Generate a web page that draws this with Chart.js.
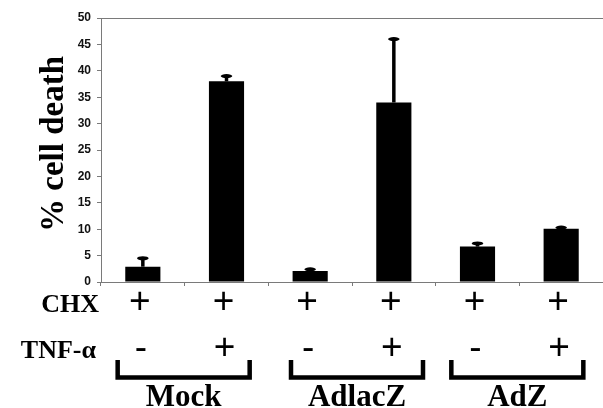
<!DOCTYPE html>
<html>
<head>
<meta charset="utf-8">
<script src="https://cdn.jsdelivr.net/npm/chart.js@4/dist/chart.umd.min.js"></script>
<style>
html,body{margin:0;padding:0;background:#fff;}
#wrap{width:603px;height:408px;}
</style>
</head>
<body>
<div id="wrap"><canvas id="c" width="603" height="408"></canvas></div>
<script>
// ---- data ----
const categories = ['Mock TNF-', 'Mock TNF+', 'AdlacZ TNF-', 'AdlacZ TNF+', 'AdZ TNF-', 'AdZ TNF+'];
const cellDeath = [2.9, 38.0, 2.1, 34.0, 6.7, 10.1];
const errorUpper = [1.6, 1.0, 0.3, 12.0, 0.6, 0.2];
const chxSigns = ['+', '+', '+', '+', '+', '+'];
const tnfSigns = ['-', '+', '-', '+', '-', '+'];
const groupNames = ['Mock', 'AdlacZ', 'AdZ'];
const groupFirst = [0, 2, 4];
const groupLast = [1, 3, 5];
const yMin = 0, yMax = 50, yStep = 5;
const yTitle = '% cell death';
const rowLabels = ['CHX', 'TNF-α'];

const AXIS = '#7a7a7a';

const extras = {
  id: 'extras',
  afterDatasetsDraw(chart) {
    const ctx = chart.ctx;
    const xs = chart.scales.x, ys = chart.scales.y;
    const a = chart.chartArea;
    ctx.save();
    // top border
    ctx.strokeStyle = AXIS; ctx.lineWidth = 1;
    ctx.beginPath(); ctx.moveTo(a.left, a.top + 0.5); ctx.lineTo(a.right, a.top + 0.5); ctx.stroke();
    // error bars (upper only)
    ctx.fillStyle = '#000'; ctx.strokeStyle = '#000';
    cellDeath.forEach((v, i) => {
      const x = xs.getPixelForValue(i);
      const y0 = ys.getPixelForValue(v);
      const y1 = ys.getPixelForValue(v + errorUpper[i]);
      ctx.lineWidth = 3.5;
      ctx.beginPath(); ctx.moveTo(x, y0); ctx.lineTo(x, y1); ctx.stroke();
      ctx.beginPath(); ctx.ellipse(x, y1, 5.8, 2, 0, 0, Math.PI * 2); ctx.fill();
    });
    // y title
    ctx.fillStyle = '#000';
    ctx.font = 'bold 33px "Liberation Serif", serif';
    ctx.textAlign = 'center'; ctx.textBaseline = 'middle';
    ctx.save();
    ctx.translate(54, (a.top + a.bottom) / 2 - 6);
    ctx.rotate(-Math.PI / 2);
    ctx.fillText(yTitle, 0, 0);
    ctx.restore();
    // row labels
    ctx.font = 'bold 26px "Liberation Serif", serif';
    ctx.textAlign = 'right'; ctx.textBaseline = 'alphabetic';
    ctx.fillText(rowLabels[0], 99, 312);
    ctx.fillText(rowLabels[1], 96, 358);
    // signs
    ctx.font = '37px "Liberation Sans", Arial, sans-serif';
    ctx.textAlign = 'center'; ctx.textBaseline = 'middle';
    chxSigns.forEach((s, i) => {
      ctx.fillText(s, xs.getPixelForValue(i) - 3, 303);
    });
    tnfSigns.forEach((s, i) => {
      ctx.fillText(s, xs.getPixelForValue(i) - 2, 349);
    });
    // brackets and group names
    const shifts = [-1, 5, -2];
    ctx.lineWidth = 4.5; ctx.lineJoin = 'miter'; ctx.lineCap = 'butt';
    groupNames.forEach((g, k) => {
      const mid = (xs.getPixelForValue(groupFirst[k]) + xs.getPixelForValue(groupLast[k])) / 2 + shifts[k];
      const l = mid - 66, r = mid + 66;
      ctx.beginPath();
      ctx.moveTo(l, 360); ctx.lineTo(l, 377.5); ctx.lineTo(r, 377.5); ctx.lineTo(r, 360);
      ctx.stroke();
      ctx.font = 'bold 31px "Liberation Serif", serif';
      ctx.textAlign = 'center'; ctx.textBaseline = 'alphabetic';
      ctx.fillText(g, mid, 406);
    });
    ctx.restore();
  }
};

new Chart(document.getElementById('c'), {
  type: 'bar',
  data: {
    labels: categories,
    datasets: [{
      data: cellDeath,
      backgroundColor: '#000',
      borderWidth: 0,
      barPercentage: 0.42,
      categoryPercentage: 1.0
    }]
  },
  options: {
    responsive: false,
    animation: false,
    devicePixelRatio: 1,
    layout: { padding: { top: 18, right: 0, left: 0, bottom: 0 } },
    plugins: { legend: { display: false }, tooltip: { enabled: false } },
    scales: {
      x: {
        offset: true,
        grid: { offset: true, drawOnChartArea: false, drawTicks: true, tickLength: 4, color: AXIS },
        border: { display: true, color: AXIS, width: 1 },
        ticks: { display: false },
        afterFit(s) { s.height = 126; }
      },
      y: {
        min: yMin, max: yMax,
        ticks: { stepSize: yStep, padding: 6, color: '#111', font: { family: '"Liberation Sans", Arial, sans-serif', size: 12, weight: 'bold' } },
        grid: { drawOnChartArea: false, drawTicks: true, tickLength: 4, color: AXIS },
        border: { display: true, color: AXIS, width: 1 },
        afterFit(s) { s.width = 101; }
      }
    }
  },
  plugins: [extras]
});
</script>
</body>
</html>
